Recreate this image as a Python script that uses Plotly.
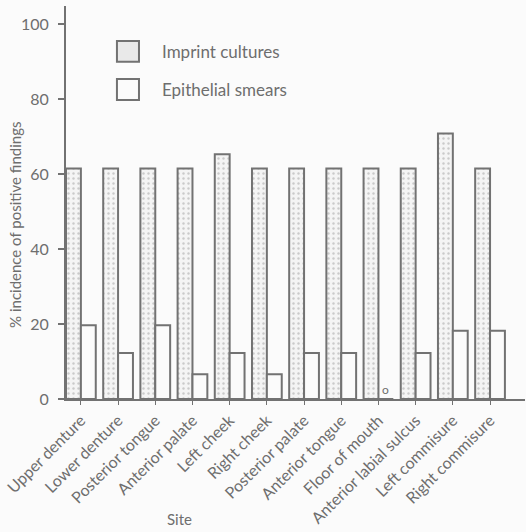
import plotly.graph_objects as go

# Oral sampling sites and percentage of positive findings
sites = ["Upper denture", "Lower denture", "Posterior tongue", "Anterior palate",
         "Left cheek", "Right cheek", "Posterior palate", "Anterior tongue",
         "Floor of mouth", "Anterior labial sulcus", "Left commisure", "Right commisure"]
imprint = [61.5, 61.5, 61.5, 61.5, 65.3, 61.5, 61.5, 61.5, 61.5, 61.5, 70.8, 61.5]
smears = [19.7, 12.3, 19.7, 6.6, 12.3, 6.6, 12.3, 12.3, 0, 12.3, 18.2, 18.2]
y_ticks = [0, 20, 40, 60, 80, 100]

FONT = "Lato"
INK = "#6e6e6e"
EDGE = "#727272"
idx = list(range(len(sites)))

fig = go.Figure()
fig.add_trace(go.Bar(
    x=idx, y=imprint, width=0.4, offset=-0.4, name="Imprint cultures",
    marker=dict(color="#f4f4f4", line=dict(color=EDGE, width=2),
                pattern=dict(shape=".", fgcolor="#a0a0a0", bgcolor="#f4f4f4",
                             size=5, solidity=0.18)),
))
fig.add_trace(go.Bar(
    x=idx, y=smears, width=0.4, offset=0.0, name="Epithelial smears",
    marker=dict(color="#fbfbfb", line=dict(color=EDGE, width=2)),
))

# zero-value marker for floor of mouth smears
for i, v in enumerate(smears):
    if v == 0:
        fig.add_annotation(x=i + 0.2, y=0, text="o", showarrow=False,
                           yanchor="bottom", yshift=0,
                           font=dict(family=FONT, size=12, color=INK))

# legend drawn as boxes with labels
legend_items = [("Imprint cultures", True, 0.911, 0.858),
                ("Epithelial smears", False, 0.814, 0.761)]
for label, dotted, y1, y0 in legend_items:
    fig.add_shape(type="rect", xref="paper", yref="paper",
                  x0=0.111, x1=0.159, y0=y0, y1=y1,
                  line=dict(color=EDGE, width=2),
                  fillcolor="#e9e9e9" if dotted else "#fbfbfb")
    fig.add_annotation(xref="paper", yref="paper", x=0.205, y=(y0 + y1) / 2,
                       text=label, showarrow=False, xanchor="left",
                       yanchor="middle",
                       font=dict(family=FONT, size=17, color=INK))

fig.add_annotation(xref="paper", yref="paper", x=-0.111, y=0.443,
                   text="% incidence of positive findings", textangle=-90,
                   showarrow=False, xanchor="center", yanchor="middle",
                   font=dict(family=FONT, size=15, color=INK))
fig.add_annotation(xref="paper", yref="paper", x=0.248, y=-0.305,
                   text="Site", showarrow=False, xanchor="center",
                   yanchor="middle",
                   font=dict(family=FONT, size=15, color=INK))

fig.update_layout(
    width=526, height=532,
    margin=dict(l=66, r=1, t=6, b=133),
    paper_bgcolor="#fbfbfb", plot_bgcolor="#fbfbfb",
    barmode="overlay", showlegend=False,
    font=dict(family=FONT, color=INK),
)
fig.update_xaxes(
    range=[-0.4, 11.94], tickvals=idx, ticktext=sites, tickangle=-45,
    showline=True, linecolor=EDGE, linewidth=2, showgrid=False, zeroline=False,
    ticks="outside", ticklen=4, tickcolor=EDGE, tickwidth=1,
    tickfont=dict(family=FONT, size=16, color=INK),
)
fig.update_yaxes(
    range=[0, 104.8], tickvals=y_ticks,
    showline=True, linecolor=EDGE, linewidth=2, showgrid=False, zeroline=False,
    ticks="outside", ticklen=6, tickcolor=EDGE, tickwidth=2,
    ticklabelstandoff=6,
    tickfont=dict(family=FONT, size=16, color=INK),
)

fig.write_html("out.html")
